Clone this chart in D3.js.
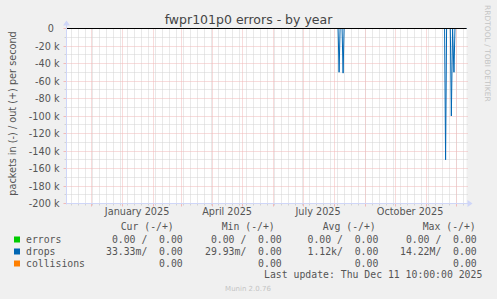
<!DOCTYPE html>
<html>
<head>
<meta charset="utf-8">
<script src="https://cdn.jsdelivr.net/npm/d3@7/dist/d3.min.js"></script>
<style>
  html, body { margin: 0; padding: 0; background: #f0f0f0; }
  svg { display: block; }
  text { font-family: "DejaVu Sans", sans-serif; fill: #555; }
  .mono { font-family: "DejaVu Sans Mono", monospace; white-space: pre; }
</style>
</head>
<body>
<script>
// ---------- data ----------
const title = "fwpr101p0 errors - by year";
const yAxisTitle = "packets in (-) / out (+) per second";
const timeStart = "2024-11-06T10:00:00";
const timeEnd = "2025-12-11T10:00:00";

const yTickValues = [0, -20000, -40000, -60000, -80000, -100000, -120000, -140000, -160000, -180000, -200000];
const yTickLabels = ["0", "-20 k", "-40 k", "-60 k", "-80 k", "-100 k", "-120 k", "-140 k", "-160 k", "-180 k", "-200 k"];
const yMinorValues = [-10000, -30000, -50000, -70000, -90000, -110000, -130000, -150000, -170000, -190000];

const xLabelDates = ["2025-01-16T00:00:00", "2025-04-16T00:00:00", "2025-07-16T00:00:00", "2025-10-16T00:00:00"];
const xLabels = ["January 2025", "April 2025", "July 2025", "October 2025"];

// drops (in direction, shown negative)
const dropDates = ["2024-11-06T10:00:00", "2025-08-05T00:00:00", "2025-08-06T00:00:00", "2025-08-07T00:00:00",
  "2025-08-09T00:00:00", "2025-08-10T00:00:00", "2025-08-11T00:00:00",
  "2025-11-19T12:00:00", "2025-11-20T12:00:00", "2025-11-21T12:00:00",
  "2025-11-25T06:00:00", "2025-11-26T06:00:00", "2025-11-27T12:00:00",
  "2025-11-28T21:00:00", "2025-11-29T21:00:00", "2025-12-11T10:00:00"];
const dropValues = [0, 0, -50000, 0, 0, -51000, 0, 0, -150000, 0, 0, -100000, 0, -50000, 0, 0];

const seriesNames = ["errors", "drops", "collisions"];
const seriesColors = ["#00cc00", "#0066b3", "#ff8000"];
const legendHeaders = ["Cur (-/+)", "Min (-/+)", "Avg (-/+)", "Max (-/+)"];
const legendCur = ["0.00 /  0.00", "33.33m/  0.00", "0.00"];
const legendMin = ["0.00 /  0.00", "29.93m/  0.00", "0.00"];
const legendAvg = ["0.00 /  0.00", "1.12k/  0.00", "0.00"];
const legendMax = ["0.00 /  0.00", "14.22M/  0.00", "0.00"];
const lastUpdate = "Last update: Thu Dec 11 10:00:00 2025";
const footer = "Munin 2.0.76";
const watermark = "RRDTOOL / TOBI OETIKER";

// ---------- drawing ----------
const W = 497, H = 299;
const svg = d3.select("body").append("svg").attr("width", W).attr("height", H);
svg.append("rect").attr("width", W).attr("height", H).attr("fill", "#f0f0f0");

const parse = d3.isoParse;
const x = d3.scaleTime().domain([parse(timeStart), parse(timeEnd)]).range([66.5, 466.5]);
const y = d3.scaleLinear().domain([-200000, 0]).range([203.5, 28.5]);
const px = v => Math.round(v - 0.5) + 0.5;

const x0 = x.range()[0], x1 = x.range()[1];
const yTop = y(0), yBot = y(-200000);

// canvas
svg.append("rect").attr("x", x0).attr("y", yTop).attr("width", x1 - x0).attr("height", yBot - yTop).attr("fill", "#ffffff");

const gridMinor = "#d2d2d2", gridMajor = "#f1b9b9";
const weeks = d3.timeMonday.range(x.domain()[0], x.domain()[1]);
const months = d3.timeMonth.range(x.domain()[0], x.domain()[1]);

const g = svg.append("g");
// minor vertical (weekly)
g.selectAll(".wk").data(weeks).join("line")
  .attr("x1", d => px(x(d))).attr("x2", d => px(x(d)))
  .attr("y1", yTop).attr("y2", yBot)
  .attr("stroke", gridMinor).attr("stroke-dasharray", "1,1");
// minor horizontal
g.selectAll(".hm").data(yMinorValues).join("line")
  .attr("x1", x0).attr("x2", x1 + 2)
  .attr("y1", d => px(y(d))).attr("y2", d => px(y(d)))
  .attr("stroke", gridMinor).attr("stroke-dasharray", "1,1");
// major vertical (monthly)
g.selectAll(".mo").data(months).join("line")
  .attr("x1", d => px(x(d))).attr("x2", d => px(x(d)))
  .attr("y1", yTop).attr("y2", yBot)
  .attr("stroke", gridMajor).attr("stroke-dasharray", "1,1");
// major horizontal
g.selectAll(".hM").data(yTickValues.slice(1)).join("line")
  .attr("x1", x0).attr("x2", x1 + 2)
  .attr("y1", d => px(y(d))).attr("y2", d => px(y(d)))
  .attr("stroke", gridMajor).attr("stroke-dasharray", "1,1");

// ticks outside
g.selectAll(".twk").data(weeks).join("line")
  .attr("x1", d => px(x(d))).attr("x2", d => px(x(d)))
  .attr("y1", yBot).attr("y2", yBot + 2).attr("stroke", gridMinor);
g.selectAll(".tmo").data(months).join("line")
  .attr("x1", d => px(x(d))).attr("x2", d => px(x(d)))
  .attr("y1", yBot).attr("y2", yBot + 3).attr("stroke", gridMajor);
g.selectAll(".thm").data(yMinorValues).join("line")
  .attr("x1", x0 - 2).attr("x2", x0)
  .attr("y1", d => px(y(d))).attr("y2", d => px(y(d))).attr("stroke", gridMinor);
g.selectAll(".thM").data(yTickValues).join("line")
  .attr("x1", x0 - 3).attr("x2", x0)
  .attr("y1", d => px(y(d))).attr("y2", d => px(y(d))).attr("stroke", gridMajor);

// drops line
const dropData = dropDates.map((d, i) => ({ t: parse(d), v: dropValues[i] }));
svg.append("path").datum(dropData)
  .attr("fill", "none").attr("stroke", seriesColors[1]).attr("stroke-width", 1)
  .attr("stroke-linejoin", "round")
  .attr("d", d3.line().x(d => x(d.t)).y(d => y(d.v)));

// zero line
svg.append("line").attr("x1", x0).attr("x2", x1).attr("y1", px(y(0))).attr("y2", px(y(0)))
  .attr("stroke", "#000").attr("stroke-width", 1);

// axes (rrdtool style)
const axisColor = "#cfd6f8";
svg.append("line").attr("x1", x0 - 0).attr("x2", x1 + 4).attr("y1", px(yBot)).attr("y2", px(yBot)).attr("stroke", axisColor);
svg.append("line").attr("x1", x0).attr("x2", x0).attr("y1", yBot + 1).attr("y2", yTop - 5).attr("stroke", axisColor);
svg.append("path").attr("d", `M${x1 + 1},${px(yBot) - 3.5} L${x1 + 6},${px(yBot)} L${x1 + 1},${px(yBot) + 3.5} Z`).attr("fill", axisColor);
svg.append("path").attr("d", `M${x0 - 3.5},${yTop - 3} L${x0},${yTop - 8} L${x0 + 3.5},${yTop - 3} Z`).attr("fill", axisColor);

// y labels
svg.selectAll(".yl").data(yTickValues).join("text")
  .attr("x", (d, i) => i === 0 ? 53.8 : 59.5)
  .attr("y", d => px(y(d)) + 3.5)
  .attr("text-anchor", "end").attr("font-size", "9.7px")
  .text((d, i) => yTickLabels[i]);

// x labels
svg.selectAll(".xl").data(xLabelDates).join("text")
  .attr("x", d => x(parse(d)))
  .attr("y", 214.5)
  .attr("text-anchor", "middle").attr("font-size", "9.7px")
  .text((d, i) => xLabels[i]);

// title
svg.append("text").attr("x", 248.5).attr("y", 23.5).attr("text-anchor", "middle")
  .attr("font-size", "12.5px").style("fill", "#444").text(title);

// y axis title
svg.append("text").attr("transform", "translate(15.5,113.5) rotate(-90)")
  .attr("text-anchor", "middle").attr("font-size", "9.7px").text(yAxisTitle);

// watermark
svg.append("text").attr("transform", "translate(485,5) rotate(90)")
  .attr("text-anchor", "start").attr("font-size", "7.5px").style("fill", "#c4c4c4").text(watermark);

// legend
const lfs = "9.8px";
const rowY = [242.5, 254.5, 266.5];
const colEnds = [182.7, 281.7, 378.3, 476.7];
const headStarts = [120.7, 221.7, 322.7, 422.7];
const legendCols = [legendCur, legendMin, legendAvg, legendMax];

svg.selectAll(".lh").data(legendHeaders).join("text").attr("class", "mono")
  .attr("x", (d, i) => headStarts[i]).attr("y", 230).attr("font-size", lfs).text(d => d);

seriesNames.forEach((name, r) => {
  svg.append("rect").attr("x", 14).attr("y", rowY[r] - 6).attr("width", 6).attr("height", 6).attr("fill", seriesColors[r]);
  svg.append("text").attr("class", "mono").attr("x", 26).attr("y", rowY[r]).attr("font-size", lfs).text(name);
  legendCols.forEach((col, c) => {
    svg.append("text").attr("class", "mono").attr("x", colEnds[c]).attr("y", rowY[r])
      .attr("text-anchor", "end").attr("font-size", lfs).text(col[r]);
  });
});

svg.append("text").attr("class", "mono").attr("x", 482.3).attr("y", 278.3)
  .attr("text-anchor", "end").attr("font-size", lfs).text(lastUpdate);

svg.append("text").attr("x", 248).attr("y", 290.5).attr("text-anchor", "middle")
  .attr("font-size", "7px").style("fill", "#c4c4c4").text(footer);
</script>
</body>
</html>
